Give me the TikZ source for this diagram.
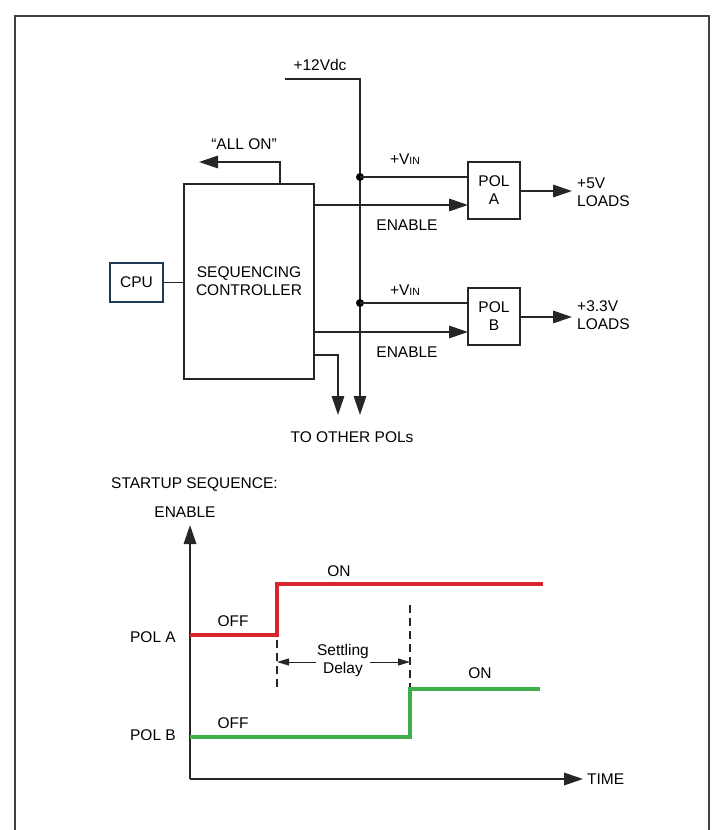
\documentclass[tikz,border=0pt]{standalone}
\usepackage{fontspec}
\setmainfont{Liberation Sans}
\usepackage{xcolor}
\usetikzlibrary{positioning, arrows.meta, calc}
\definecolor{polared}{HTML}{D7262F}
\definecolor{polbgreen}{HTML}{3DB04A}
\definecolor{cpublue}{HTML}{1E3A56}
\newcommand{\vin}{+V{\fontsize{10.5}{10}\selectfont IN}}

\begin{document}
\begin{tikzpicture}[
  x=1pt, y=-1pt,
  font=\fontsize{15.5}{18}\selectfont,
  wire/.style={line width=1.7pt, black!85},
  arr/.style={wire, -{Triangle[length=19pt, width=12.5pt]}},
  blk/.style={rectangle, draw=black!85, line width=1.7pt, align=center, inner sep=0pt},
  lbl/.style={inner sep=1pt, align=center},
  sig/.style={line width=3.5pt, line join=miter},
  dsh/.style={line width=1.4pt, black!85, dash pattern=on 8pt off 5pt},
  dim/.style={line width=1pt, black!85, -{Triangle[length=12pt, width=7pt]}}]
\useasboundingbox (0,0) rectangle (712,830);
\draw[line width=1.2pt, black!75] (15,830) -- (15,16) -- (709,16) -- (709,830);
% --- blocks ---
\node[blk, minimum width=130pt, minimum height=195pt] (ctrl) at (249,281.5) {SEQUENCING\\CONTROLLER};
\node[blk, draw=cpublue, minimum width=53pt, minimum height=39pt] (cpu) at (136.5,282.5) {CPU};
\node[blk, minimum width=52pt, minimum height=57pt] (pola) at (494,190.5) {POL\\A};
\node[blk, minimum width=52pt, minimum height=57pt] (polb) at (494,316.5) {POL\\B};
% --- supply bus ---
\coordinate (vtop) at (285,79);
\coordinate (vbus) at (360,79);
\coordinate (vend) at (360,415);
\coordinate (ja) at (360,177);
\coordinate (jb) at (360,303);
\node[lbl] (v12) at (320,65) {+12Vdc};
\draw[arr] (vtop) -- (vbus) -- (vend);
\fill (ja) circle (4pt) (jb) circle (4pt);
\draw[wire] (ja) -- (ja -| pola.west);
\draw[wire] (jb) -- (jb -| polb.west);
\node[lbl] (vina) at (405,159) {\vin};
\node[lbl] (vinb) at (405,290) {\vin};
% --- enables ---
\coordinate (ena) at (468,205);
\coordinate (enb) at (468,332);
\draw[arr] (ena -| ctrl.east) -- (ena);
\draw[arr] (enb -| ctrl.east) -- (enb);
\node[lbl] (enla) at (407,225) {ENABLE};
\node[lbl] (enlb) at (407,352) {ENABLE};
% --- outputs ---
\coordinate (outa) at (572,191);
\coordinate (outb) at (572,317);
\draw[arr] (outa -| pola.east) -- (outa);
\draw[arr] (outb -| polb.east) -- (outb);
\node[lbl, anchor=west, align=left] (lda) at (576,192) {+5V\\LOADS};
\node[lbl, anchor=west, align=left] (ldb) at (576,315) {+3.3V\\LOADS};
% --- controller i/o ---
\draw[wire] (cpu.east) -- (cpu.east -| ctrl.west);
\coordinate (allon) at (199,162);
\draw[arr] (ctrl.north -| 280,0) -- (allon -| 280,0) -- (allon);
\node[lbl] (alltxt) at (244,144) {“ALL ON”};
\coordinate (oth) at (338,415);
\draw[arr] (ctrl.east |- 0,355) -- (oth |- 0,355) -- (oth);
\node[lbl] (others) at (352,437) {TO OTHER POLs};
% --- startup sequence ---
\node[lbl, anchor=west] (seq) at (110,485) {STARTUP SEQUENCE:};
\coordinate (org) at (190,779);
\draw[arr] (org) -- (190,525);
\draw[arr] (org) -- (583,779);
\node[lbl] (yl) at (185,512) {ENABLE};
\node[lbl, anchor=west] (xt) at (586,779) {TIME};
\node[lbl, anchor=east] (pa) at (177,637) {POL A};
\node[lbl, anchor=east] (pb) at (177,735) {POL B};
\draw[sig, polared] (190,635) -- (277,635) -- (277,584) -- (543,584);
\draw[sig, polbgreen] (190,737) -- (410,737) -- (410,689) -- (540,689);
\node[lbl] (ona) at (339,571) {ON};
\node[lbl] (offa) at (233,621) {OFF};
\node[lbl] (onb) at (480,673) {ON};
\node[lbl] (offb) at (233,723) {OFF};
\draw[dsh] (277,640) -- (277,688);
\draw[dsh] (410,605) -- (410,687);
\node[lbl] (dly) at (343,660) {Settling\\Delay};
\draw[dim] (dly.west |- 0,662) -- (277,662);
\draw[dim] (dly.east |- 0,662) -- (410,662);
\end{tikzpicture}
\end{document}
